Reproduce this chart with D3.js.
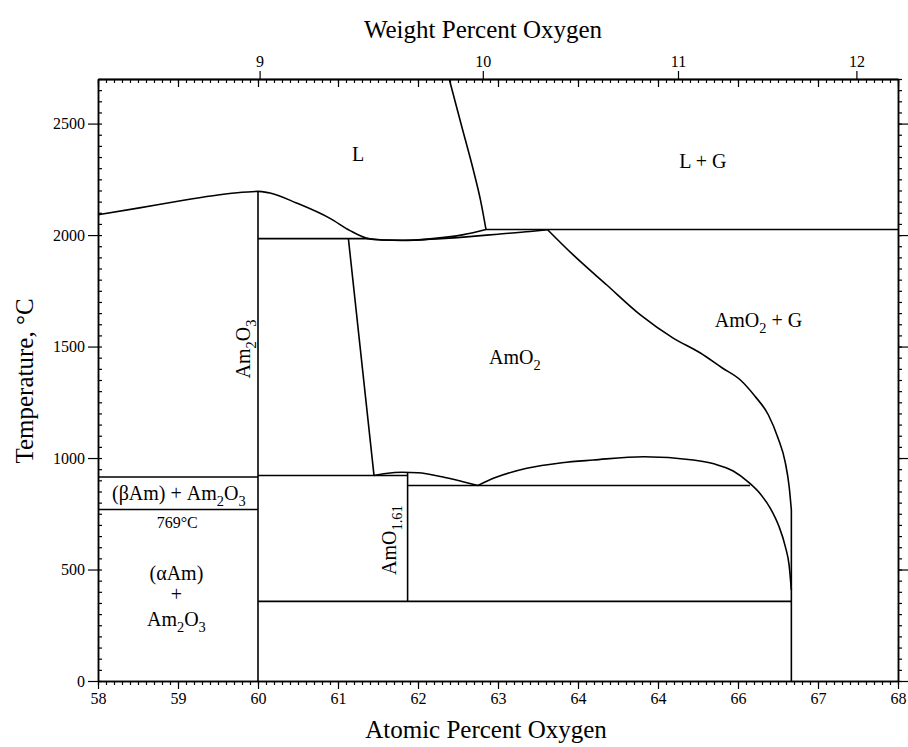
<!DOCTYPE html>
<html><head><meta charset="utf-8">
<script src="https://cdn.jsdelivr.net/npm/d3@7"></script>
<style>
body{margin:0;background:#fff}
text{font-family:"Liberation Serif","Times New Roman",Times,serif;fill:#000}
</style>
</head><body>
<svg id="chart" width="908" height="747"></svg>
<script>
// ---------- axis tick data ----------
const atMajor = [58,59,60,61,62,63,64,65,66,67,68];
const atLabels = ["58","59","60","61","62","63","64","64","66","67","68"];
const tMajor = [0,500,1000,1500,2000,2500];
const tLabels = ["0","500","1000","1500","2000","2500"];
const wtLabels = ["9","10","11","12"];
const wtAt = [60.02,62.81,65.25,67.48];

// ---------- phase boundaries (atomic % O, temperature °C) ----------
const liqLeft = [[58,2091],[58.5,2121],[59.07,2156],[59.5,2180],[59.8,2192],[60,2196]];
const liqRight = [[60,2196],[60.15,2189],[60.48,2144],[60.9,2075],[61.15,2020],[61.36,1986],[61.55,1978],[61.8,1976],[62.15,1983],[62.57,2002],[62.85,2025]];
const solidusAmO2 = [[61.36,1985],[61.6,1978],[61.9,1977],[62.15,1981],[62.57,1991],[63.0,2004],[63.4,2016],[63.62,2024]];
const lgBoundary = [[62.39,2700],[62.54,2496],[62.69,2294],[62.78,2159],[62.85,2025]];
const amo2gBoundary = [[63.62,2024],[63.94,1911],[64.36,1776],[64.78,1642],[65.19,1538],[65.53,1471],[65.8,1405],[66.03,1350],[66.21,1278],[66.38,1193],[66.5,1090],[66.59,982],[66.64,870],[66.667,767]];
const amo2Left = [[61.13,1984],[61.45,922]];
const smallDome = [[61.45,922],[61.6,931],[61.8,936],[62.0,934],[62.3,916],[62.55,895],[62.75,877]];
const bigDome = [[62.75,877],[62.95,910],[63.36,954],[63.8,979],[64.19,991],[64.82,1006],[65.44,991],[65.71,973],[65.94,942],[66.13,892],[66.28,839],[66.41,771],[66.51,695],[66.59,605],[66.64,516],[66.667,408]];
const hLines = [
  [[62.85,2025],[68,2025]],
  [[60,1984],[61.38,1984]],
  [[58,915],[60,915]],
  [[58,769],[60,769]],
  [[60,922],[61.87,922]],
  [[61.87,877],[66.15,877]],
  [[60,357],[66.667,357]]
];
const vLines = [
  [[60,0],[60,2196]],
  [[61.87,357],[61.87,936]],
  [[66.667,0],[66.667,767]]
];

// ---------- layout ----------
const svg = d3.select("#chart");
const L = 98, R = 898, T = 79, B = 681;
const x = d3.scaleLinear().domain([58,68]).range([L,R]);
const y = d3.scaleLinear().domain([0,2700]).range([B,T]);

const fontTick = 16;
function styleAxis(g){
  g.selectAll("path.domain").attr("stroke","#000").attr("stroke-width",1.5);
  g.selectAll(".tick line").attr("stroke","#000").attr("stroke-width",1.2);
  g.selectAll("text").attr("font-size",fontTick).attr("font-family","Liberation Serif, Times New Roman, serif").attr("fill","#000");
}
const minorAt = d3.range(58,68.0001,0.1).map(v=>+v.toFixed(1));
const minorT = d3.range(0,2700.1,50);

// bottom
svg.append("g").attr("transform",`translate(0,${B})`)
  .call(d3.axisBottom(x).tickValues(minorAt).tickSize(4).tickSizeOuter(0).tickFormat("")).call(styleAxis);
svg.append("g").attr("transform",`translate(0,${B})`)
  .call(d3.axisBottom(x).tickValues(atMajor).tickSize(8).tickPadding(4).tickSizeOuter(0)
    .tickFormat((d,i)=>atLabels[i])).call(styleAxis);
// top
svg.append("g").attr("transform",`translate(0,${T})`)
  .call(d3.axisTop(x).tickValues(minorAt).tickSize(-4).tickSizeOuter(0).tickFormat("")).call(styleAxis);
svg.append("g").attr("transform",`translate(0,${T})`)
  .call(d3.axisTop(x).tickValues(atMajor).tickSize(-8).tickSizeOuter(0).tickFormat("")).call(styleAxis);
svg.append("g").attr("transform",`translate(0,${T})`)
  .call(d3.axisTop(x).tickValues(wtAt).tickSize(8).tickPadding(4).tickSizeOuter(0)
    .tickFormat((d,i)=>wtLabels[i])).call(styleAxis);
// left
svg.append("g").attr("transform",`translate(${L},0)`)
  .call(d3.axisLeft(y).tickValues(minorT).tickSize(-4).tickSizeOuter(0).tickFormat("")).call(styleAxis);
svg.append("g").attr("transform",`translate(${L},0)`)
  .call(d3.axisLeft(y).tickValues(tMajor).tickSize(10).tickPadding(3).tickSizeOuter(0)
    .tickFormat((d,i)=>tLabels[i])).call(styleAxis);
// right
svg.append("g").attr("transform",`translate(${R},0)`)
  .call(d3.axisRight(y).tickValues(minorT).tickSize(4).tickSizeOuter(0).tickFormat("")).call(styleAxis);
svg.append("g").attr("transform",`translate(${R},0)`)
  .call(d3.axisRight(y).tickValues(tMajor).tickSize(10).tickSizeOuter(0).tickFormat("")).call(styleAxis);

// ---------- boundaries ----------
const smooth = d3.line().x(d=>x(d[0])).y(d=>y(d[1])).curve(d3.curveMonotoneX);
const straight = d3.line().x(d=>x(d[0])).y(d=>y(d[1]));
const lines = svg.append("g").attr("fill","none").attr("stroke","#000").attr("stroke-width",1.6).attr("stroke-linejoin","round");
[liqLeft, liqRight, solidusAmO2, lgBoundary, amo2gBoundary, smallDome, bigDome].forEach(c=>{
  lines.append("path").attr("d", smooth(c));
});
[amo2Left, ...hLines, ...vLines].forEach(c=>{
  lines.append("path").attr("d", straight(c));
});

// ---------- labels ----------
function rich(g, parts, size){
  const t = g.append("text").attr("font-size", size);
  let shifted = false;
  parts.forEach(p=>{
    const sub = p[1];
    const ts = t.append("tspan").text(p[0]);
    if (sub && !shifted){ ts.attr("dy", size*0.3).attr("font-size", size*0.72); shifted = true; }
    else if (sub) { ts.attr("font-size", size*0.72); }
    else if (!sub && shifted){ ts.attr("dy", -size*0.3); shifted = false; }
  });
  return t;
}
function label(at, temp, parts, size, anchor, rotate){
  const g = svg.append("g").attr("transform", `translate(${x(at)},${y(temp)})` + (rotate ? " rotate(-90)" : ""));
  rich(g, parts, size).attr("text-anchor", anchor || "middle");
}
label(61.25, 2330, [["L"]], 20);
label(65.56, 2301, [["L + G"]], 20);
label(65.71, 1589, [["AmO"],["2",1],[" + G"]], 20, "start");
label(63.21, 1422, [["AmO"],["2",1]], 20);
label(59.9, 1489, [["Am"],["2",1],["O"],["3",1]], 20, "middle", true);
label(59.01, 812, [["(βAm) + Am"],["2",1],["O"],["3",1]], 20);
label(58.99, 686, [["769°C"]], 16);
label(58.98, 453, [["(αAm)"]], 20);
label(58.98, 359, [["+"]], 20);
label(58.98, 247, [["Am"],["2",1],["O"],["3",1]], 20);
label(61.725, 632, [["AmO"],["1.61",1]], 20, "middle", true);

// axis titles
svg.append("text").attr("x", 486).attr("y", 738).attr("text-anchor","middle").attr("font-size",25).text("Atomic Percent Oxygen");
svg.append("text").attr("x", 483).attr("y", 38).attr("text-anchor","middle").attr("font-size",25).text("Weight Percent Oxygen");
svg.append("text").attr("transform","translate(33,381) rotate(-90)").attr("text-anchor","middle").attr("font-size",25).text("Temperature, °C");
</script>
</body></html>
